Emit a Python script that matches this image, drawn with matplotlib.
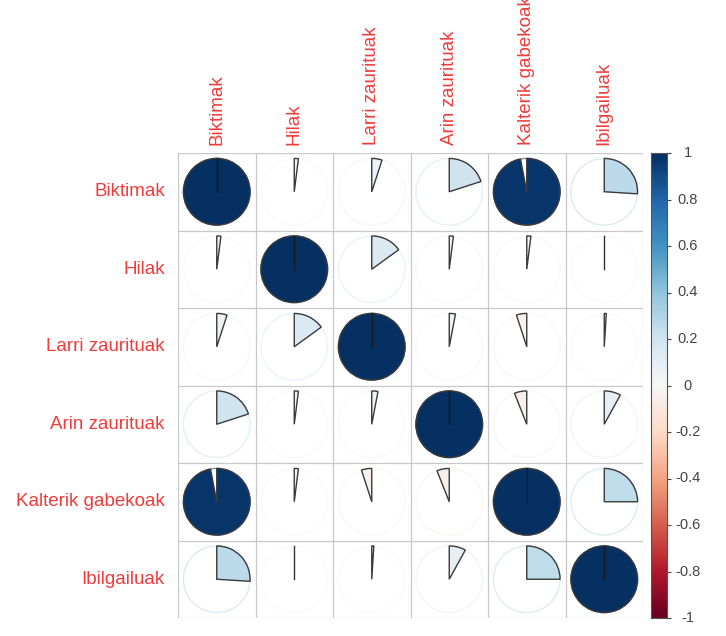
import matplotlib.pyplot as plt
import numpy as np
from matplotlib.patches import Wedge, Circle
from matplotlib import colors

plt.rcParams['font.family'] = ['Liberation Sans', 'DejaVu Sans']

# datuak
labels = ['Biktimak', 'Hilak', 'Larri zaurituak', 'Arin zaurituak',
          'Kalterik gabekoak', 'Ibilgailuak']
corr = np.array([
    [1.00, 0.02, 0.05, 0.20, 0.97, 0.26],
    [0.02, 1.00, 0.15, 0.02, 0.02, 0.00],
    [0.05, 0.15, 1.00, 0.03, -0.05, 0.01],
    [0.20, 0.02, 0.03, 1.00, -0.06, 0.08],
    [0.97, 0.02, -0.05, -0.06, 1.00, 0.25],
    [0.26, 0.00, 0.01, 0.08, 0.25, 1.00],
])
cbar_ticks = [1, 0.8, 0.6, 0.4, 0.2, 0, -0.2, -0.4, -0.6, -0.8, -1]

W, H = 726, 636
fig = plt.figure(figsize=(W / 100, H / 100), dpi=100)

n = len(labels)
x0, x1, y0, y1 = 178, 643, 153, 618
ax = fig.add_axes([x0 / W, 1 - y1 / H, (x1 - x0) / W, (y1 - y0) / H])
ax.set_xlim(0, n)
ax.set_ylim(n, 0)
ax.set_aspect('equal')
ax.axis('off')

cmap = plt.get_cmap('RdBu', 200)
norm = colors.Normalize(-1, 1)
grid_c = '#C8C8C8'
for k in range(n + 1):
    ax.plot([k, k], [0, n], color=grid_c, lw=0.9, zorder=1)
    ax.plot([0, n], [k, k], color=grid_c, lw=0.9, zorder=1)

r = 0.43
for i in range(n):
    for j in range(n):
        v = corr[i, j]
        cx, cy = j + 0.5, i + 0.5
        fc = np.array(cmap(norm(v)))
        ring = 0.55 * fc[:3] + 0.45 * np.ones(3)
        ax.add_patch(Circle((cx, cy), r, fill=False, edgecolor=ring,
                            lw=1.0, zorder=2))
        ang = 360 * abs(v)
        # y ardatza alderantzizkoa: erlojuaren orratzen norabidean = positiboa
        if v >= 0:
            t1, t2 = -90, -90 + ang
        else:
            t1, t2 = -90 - ang, -90
        if ang < 1.5:
            ax.plot([cx, cx], [cy, cy - r], color='#333333', lw=1.0, zorder=3)
            continue
        ax.add_patch(Wedge((cx, cy), r, t1, t2, facecolor=fc,
                           edgecolor='#3a3a3a', lw=1.0, zorder=3))
        if ang >= 359:
            ax.plot([cx, cx], [cy, cy - r], color='#1a1a1a', lw=1.0, zorder=4)

lab_c = '#F23B3B'
for i, lab in enumerate(labels):
    ax.text(-0.17, i + 0.5, lab, ha='right', va='center', color=lab_c,
            fontsize=13.5)
    ax.text(i + 0.5, -0.1, lab, ha='center', va='bottom', rotation=90,
            color=lab_c, fontsize=13.5)

# kolore-barra
cax = fig.add_axes([651 / W, 1 - y1 / H, 16 / W, (y1 - y0) / H])
grad = np.linspace(-1, 1, 200).reshape(-1, 1)
cax.imshow(grad, cmap=cmap, norm=norm, aspect='auto', origin='lower',
           extent=[0, 1, -1, 1])
cax.set_xticks([])
cax.yaxis.tick_right()
cax.set_yticks(cbar_ticks)
cax.set_yticklabels([])
cax.tick_params(axis='y', length=3, width=0.8, colors='#444444')
for t in cbar_ticks:
    cax.text(2.3, t, '%g' % t, ha='center', va='center', fontsize=10.5,
             color='#444444', transform=cax.get_yaxis_transform())
for s in cax.spines.values():
    s.set_color('#555555')
    s.set_linewidth(0.8)

fig.savefig('out.png', dpi=100)
